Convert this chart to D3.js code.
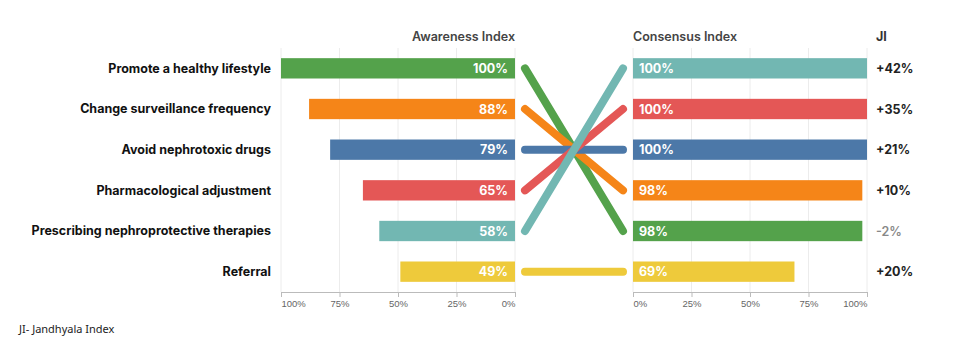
<!DOCTYPE html>
<html>
<head>
<meta charset="utf-8">
<script src="https://cdn.jsdelivr.net/npm/d3@7"></script>
<style>
  body { margin: 0; background: #fff; }
  svg { display: block; font-family: Inter, "Open Sans", sans-serif; }
</style>
</head>
<body>
<div id="chart"></div>
<script>
// data
const categories = [
    "Promote a healthy lifestyle",
    "Change surveillance frequency",
    "Avoid nephrotoxic drugs",
    "Pharmacological adjustment",
    "Prescribing nephroprotective therapies",
    "Referral"
];
const awareness = [100, 88, 79, 65, 58, 49];
const consensus = [98, 98, 100, 100, 100, 69];
const jiLabels = ["-2%", "+10%", "+21%", "+35%", "+42%", "+20%"];
const colors = ["#54a24b", "#f58518", "#4c78a8", "#e45756", "#72b7b2", "#eeca3b"];
// order on the right side (sorted by consensus)
const rightOrder = [
    "Prescribing nephroprotective therapies",
    "Pharmacological adjustment",
    "Avoid nephrotoxic drugs",
    "Change surveillance frequency",
    "Promote a healthy lifestyle",
    "Referral"
];
const ticks = [0, 25, 50, 75, 100];

const W = 973, H = 343;
const svg = d3.select("#chart").append("svg")
    .attr("width", W).attr("height", H);

const rows = categories.map((c, i) => ({
    name: c, aw: awareness[i], co: consensus[i], ji: jiLabels[i], color: colors[i]
}));

const xL = d3.scaleLinear().domain([0, 100]).range([515, 281]);
const xR = d3.scaleLinear().domain([0, 100]).range([633, 867]);
const yL = d3.scaleBand().domain(categories).range([48, 292]).paddingInner(0.5).paddingOuter(0.25);
const yR = d3.scaleBand().domain(rightOrder).range([48, 292]).paddingInner(0.5).paddingOuter(0.25);
const axisY = 292;

// grid lines
[xL, xR].forEach(x => {
    svg.append("g").selectAll("line")
        .data(ticks)
        .join("line")
        .attr("x1", d => x(d)).attr("x2", d => x(d))
        .attr("y1", 48).attr("y2", axisY)
        .attr("stroke", "#ececec").attr("stroke-width", 1);
});

// axes
function drawAxis(x, flip) {
    const g = svg.append("g").attr("transform", `translate(0, ${axisY})`);
    g.call(d3.axisBottom(x).tickValues(ticks).tickSize(5).tickFormat(d => d + "%"));
    g.select(".domain").attr("stroke", "#bbb");
    g.selectAll(".tick line").attr("stroke", "#bbb");
    g.selectAll(".tick text")
        .attr("fill", "#666")
        .style("font-size", "9.5px")
        .style("font-weight", 300)
        .attr("text-anchor", d => {
            if (d === 0) return flip ? "end" : "start";
            if (d === 100) return flip ? "start" : "end";
            return "middle";
        });
}
drawAxis(xL, true);
drawAxis(xR, false);

// headers
svg.append("text").attr("x", 515).attr("y", 41).attr("text-anchor", "end")
    .attr("fill", "#444").style("font-size", "12.5px").style("font-weight", 600)
    .text("Awareness Index");
svg.append("text").attr("x", 633).attr("y", 41)
    .attr("fill", "#444").style("font-size", "12.5px").style("font-weight", 600)
    .text("Consensus Index");
svg.append("text").attr("x", 876).attr("y", 41)
    .attr("fill", "#333").style("font-size", "12.5px").style("font-weight", 700)
    .text("JI");

// category labels
svg.append("g").selectAll("text")
    .data(rows)
    .join("text")
    .attr("x", 271)
    .attr("y", d => yL(d.name) + yL.bandwidth() / 2)
    .attr("dy", "0.35em")
    .attr("text-anchor", "end")
    .attr("fill", "#111")
    .style("font-size", "12.5px")
    .style("font-weight", 700)
    .text(d => d.name);

// left bars
svg.append("g").selectAll("rect")
    .data(rows)
    .join("rect")
    .attr("x", d => xL(d.aw))
    .attr("y", d => yL(d.name))
    .attr("width", d => xL(0) - xL(d.aw))
    .attr("height", yL.bandwidth())
    .attr("fill", d => d.color);

svg.append("g").selectAll("text")
    .data(rows)
    .join("text")
    .attr("x", xL(0) - 7)
    .attr("y", d => yL(d.name) + yL.bandwidth() / 2)
    .attr("dy", "0.36em")
    .attr("text-anchor", "end")
    .attr("fill", "#fff")
    .style("font-size", "12.5px")
    .style("font-weight", 700)
    .text(d => d.aw + "%");

// right bars
svg.append("g").selectAll("rect")
    .data(rows)
    .join("rect")
    .attr("x", xR(0))
    .attr("y", d => yR(d.name))
    .attr("width", d => xR(d.co) - xR(0))
    .attr("height", yR.bandwidth())
    .attr("fill", d => d.color);

svg.append("g").selectAll("text")
    .data(rows)
    .join("text")
    .attr("x", xR(0) + 6)
    .attr("y", d => yR(d.name) + yR.bandwidth() / 2)
    .attr("dy", "0.36em")
    .attr("fill", "#fff")
    .style("font-size", "12.5px")
    .style("font-weight", 700)
    .text(d => d.co + "%");

// JI values
svg.append("g").selectAll("text")
    .data(rows)
    .join("text")
    .attr("x", 876)
    .attr("y", d => yR(d.name) + yR.bandwidth() / 2)
    .attr("dy", "0.36em")
    .attr("fill", d => d.ji.startsWith("-") ? "#888" : "#222")
    .style("font-size", "12.5px")
    .style("font-weight", d => d.ji.startsWith("-") ? 600 : 700)
    .text(d => d.ji);

// slope lines
svg.append("g").selectAll("line")
    .data(rows)
    .join("line")
    .attr("x1", 525)
    .attr("x2", 623)
    .attr("y1", d => yL(d.name) + yL.bandwidth() / 2)
    .attr("y2", d => yR(d.name) + yR.bandwidth() / 2)
    .attr("stroke", d => d.color)
    .attr("stroke-width", 8)
    .attr("stroke-linecap", "round");

// footnote
svg.append("text").attr("x", 19).attr("y", 333)
    .attr("fill", "#222")
    .style("font-family", "'Noto Sans', sans-serif")
    .style("font-size", "11px")
    .text("JI- Jandhyala Index");
</script>
</body>
</html>
